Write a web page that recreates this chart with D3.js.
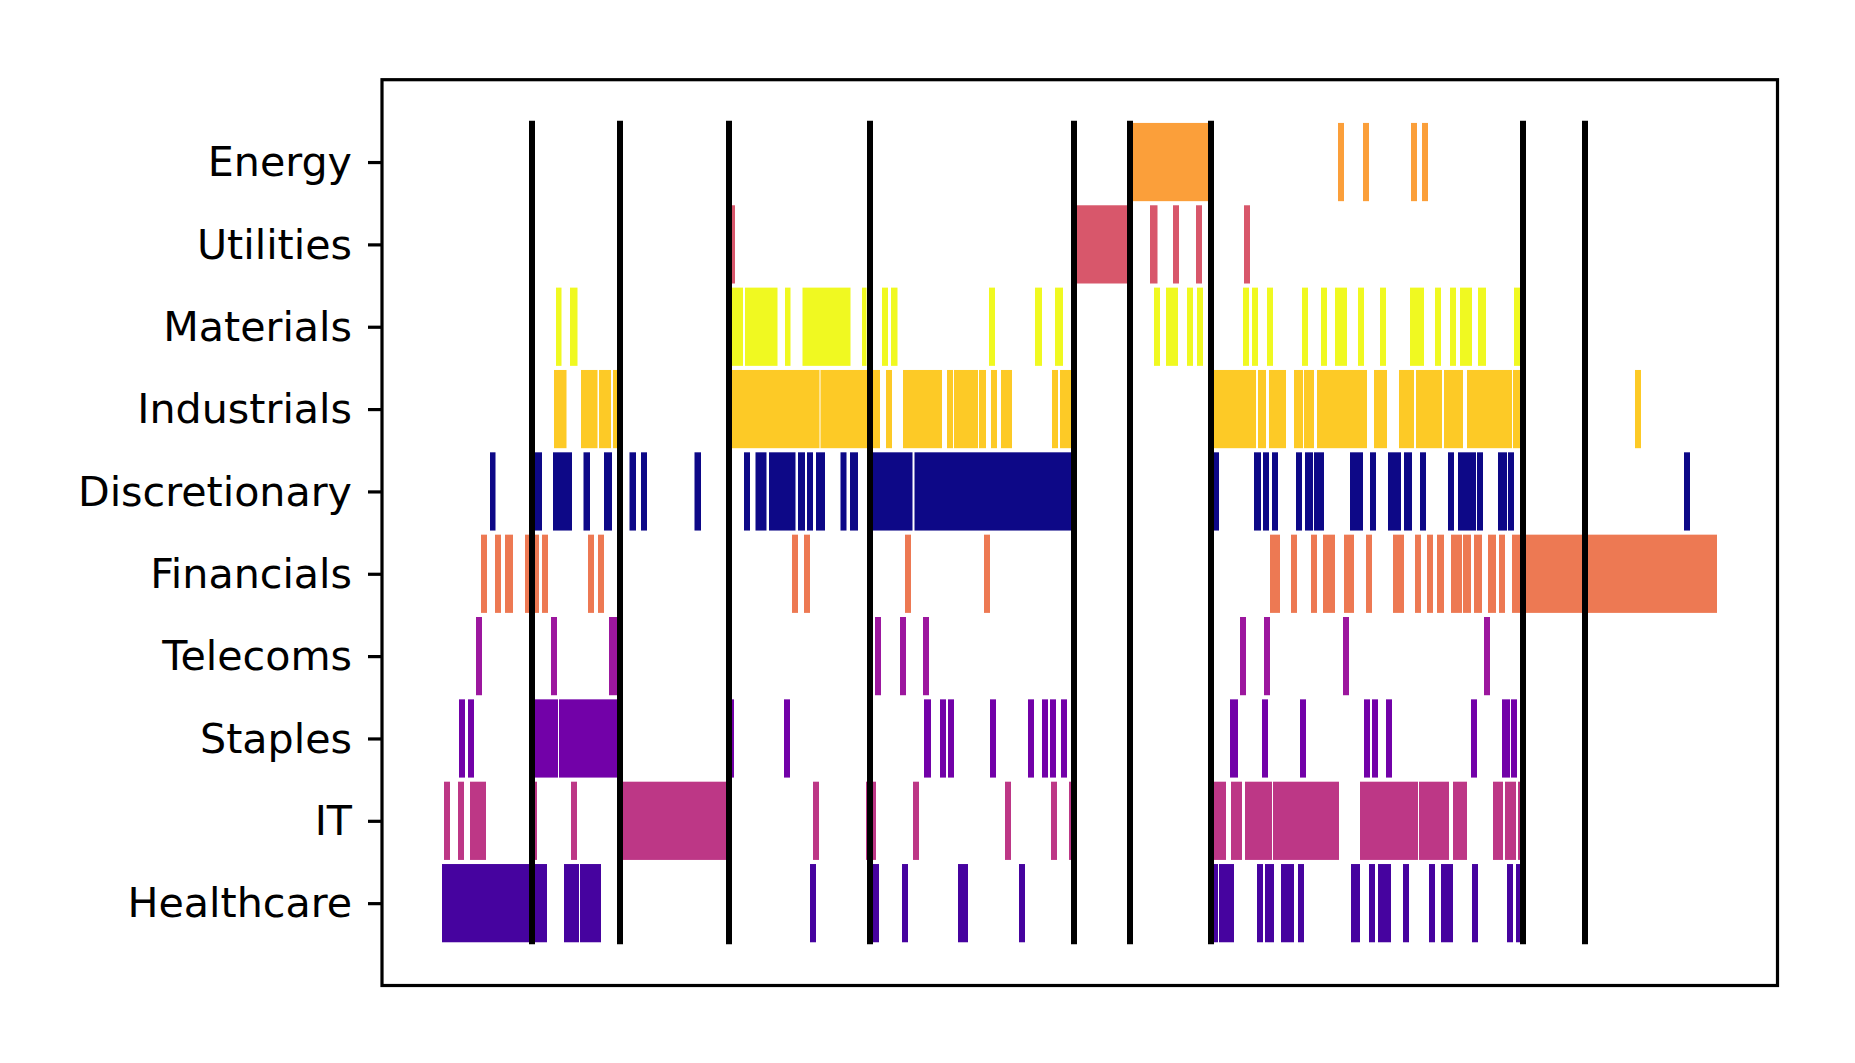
<!DOCTYPE html>
<html>
<head>
<meta charset="utf-8">
<script src="https://cdn.jsdelivr.net/npm/d3@7"></script>
<style>
  body { margin: 0; background: #fff; }
  text { font-family: "DejaVu Sans", sans-serif; }
</style>
</head>
<body>
<div id="chart"></div>
<script>
// sectors from top row to bottom row
const sectors = ['Energy', 'Utilities', 'Materials', 'Industrials', 'Discretionary',
  'Financials', 'Telecoms', 'Staples', 'IT', 'Healthcare']

// position of each sector in the plasma colour map (0..9)
const colorRank = {
  'Discretionary': 0, 'Healthcare': 1, 'Staples': 2, 'Telecoms': 3, 'IT': 4,
  'Utilities': 5, 'Financials': 6, 'Energy': 7, 'Industrials': 8, 'Materials': 9
}

// periods where each sector led, [start, end] in period units
const energyRuns = [[137.6, 153.4], [179.2, 180.4], [184.2, 185.4], [193.8, 195.0], [196.0, 197.2]]

const utilitiesRuns = [[57.6, 58.6], [126.4, 137.4], [141.6, 143.1], [146.2, 147.4], [150.8, 152.0],
  [160.4, 161.6]]

const materialsRuns = [[22.8, 23.9], [25.6, 27.1], [57.6, 60.2], [60.6, 67.1], [68.6, 69.7],
  [72.1, 81.7], [84.0, 84.9], [88.0, 89.2], [89.8, 91.1], [109.4, 110.6], [118.6, 120.0],
  [122.6, 124.2], [142.4, 143.6], [144.8, 147.2], [149.0, 150.2], [151.0, 152.2], [160.2, 161.4],
  [162.0, 163.2], [165.0, 166.2], [172.0, 173.2], [175.8, 177.0], [178.6, 181.0], [183.2, 184.4],
  [187.6, 188.8], [193.6, 196.4], [198.6, 199.8], [201.6, 202.8], [203.6, 206.0], [207.2, 208.8],
  [214.4, 215.6]]

const industrialsRuns = [[22.4, 24.9], [27.8, 31.1], [31.4, 33.8], [34.2, 35.4], [57.6, 75.5],
  [75.7, 85.2], [85.4, 87.6], [88.8, 90.0], [92.2, 100.0], [101.0, 102.2], [102.4, 107.2],
  [107.4, 108.8], [109.8, 111.0], [111.8, 114.0], [122.0, 123.2], [123.6, 126.0], [154.0, 162.8],
  [163.2, 164.8], [165.4, 168.8], [170.4, 172.2], [172.4, 174.4], [175.0, 185.0], [186.4, 189.0],
  [191.4, 194.4], [194.8, 200.0], [200.4, 204.2], [205.0, 214.0], [214.2, 215.8], [238.6, 239.8]]

const discretionaryRuns = [[9.6, 10.7], [18.2, 20.0], [22.2, 26.0], [28.3, 29.6], [32.4, 34.0],
  [37.5, 38.8], [39.8, 41.0], [50.5, 51.8], [60.4, 61.6], [62.7, 64.9], [65.4, 70.7], [71.2, 72.6],
  [73.0, 74.2], [74.8, 76.6], [79.7, 80.9], [81.6, 83.2], [85.4, 94.1], [94.5, 126.0],
  [154.0, 155.4], [162.4, 163.8], [164.2, 165.4], [166.0, 167.2], [170.8, 172.0], [172.6, 174.2],
  [174.4, 176.4], [181.6, 184.2], [185.6, 186.8], [189.2, 191.8], [192.4, 194.0], [195.6, 196.8],
  [201.2, 202.4], [203.2, 206.8], [207.0, 208.2], [211.2, 213.0], [213.2, 214.4], [248.4, 249.6]]

const financialsRuns = [[7.8, 9.0], [10.6, 11.8], [12.6, 14.2], [16.6, 17.8], [18.2, 19.4],
  [20.0, 21.2], [29.2, 30.4], [31.2, 32.4], [70.0, 71.2], [72.4, 73.6], [92.6, 93.8], [108.4, 109.6],
  [165.6, 167.6], [169.8, 171.0], [173.8, 175.0], [176.2, 178.6], [180.4, 182.4], [184.8, 186.0],
  [190.2, 192.4], [194.6, 195.8], [197.0, 198.2], [199.0, 200.4], [201.8, 204.0], [204.2, 205.8],
  [206.4, 208.0], [209.2, 210.8], [211.4, 212.6], [214.0, 255.0]]

const telecomsRuns = [[6.8, 8.0], [21.8, 23.0], [33.4, 35.4], [86.6, 87.8], [91.6, 92.8],
  [96.2, 97.4], [159.6, 160.8], [164.4, 165.6], [180.2, 181.4], [208.4, 209.6]]

const staplesRuns = [[3.4, 4.6], [5.2, 6.4], [18.0, 23.2], [23.4, 35.8], [57.6, 58.4], [68.4, 69.6],
  [96.4, 97.8], [99.6, 100.8], [101.2, 102.4], [109.6, 110.8], [117.2, 118.4], [120.0, 121.2],
  [121.6, 122.8], [123.8, 125.0], [157.6, 159.2], [164.0, 165.2], [171.6, 172.8], [184.4, 185.6],
  [186.0, 187.2], [188.8, 190.0], [205.8, 207.0], [212.0, 213.6], [213.8, 215.0]]

const itRuns = [[0.4, 1.6], [3.2, 4.4], [5.6, 8.8], [18.2, 19.0], [25.8, 27.0], [35.6, 57.2],
  [74.2, 75.4], [84.8, 86.8], [94.2, 95.4], [112.6, 113.8], [121.8, 123.0], [125.4, 126.0],
  [154.0, 156.8], [157.8, 160.0], [160.6, 166.0], [166.2, 179.4], [183.6, 195.2], [195.4, 201.4],
  [202.2, 205.0], [210.2, 212.2], [212.6, 214.8], [215.2, 215.8]]

const healthcareRuns = [[0.0, 17.8], [18.0, 21.0], [24.4, 27.4], [27.6, 31.8], [73.6, 74.8],
  [85.4, 87.4], [92.0, 93.2], [103.2, 105.2], [115.4, 116.6], [154.0, 155.2], [155.4, 158.4],
  [163.0, 164.2], [164.6, 166.4], [167.8, 170.4], [171.2, 172.4], [181.8, 183.6], [185.4, 186.6],
  [187.2, 189.8], [192.2, 193.4], [197.4, 198.6], [199.8, 202.2], [206.0, 207.2], [213.0, 214.2],
  [214.8, 215.8]]

// black event markers
const eventMarks = [18.0, 35.6, 57.4, 85.6, 126.4, 137.6, 153.8, 216.2, 228.6]

const runsBySector = {
  'Energy': energyRuns, 'Utilities': utilitiesRuns, 'Materials': materialsRuns,
  'Industrials': industrialsRuns, 'Discretionary': discretionaryRuns, 'Financials': financialsRuns,
  'Telecoms': telecomsRuns, 'Staples': staplesRuns, 'IT': itRuns, 'Healthcare': healthcareRuns
}

const width = 1855
const height = 1063
const plotLeft = 382
const plotRight = 1777.5
const plotTop = 79.7
const plotBottom = 985.5

const svg = d3.select('#chart').append('svg')
  .attr('width', width)
  .attr('height', height)

svg.append('rect').attr('width', width).attr('height', height).attr('fill', '#fff')

const xScale = d3.scaleLinear().domain([-12, 267.1]).range([plotLeft, plotRight])
// row index: Healthcare = 0 ... Energy = 9
const yScale = d3.scaleLinear().domain([-1, 10]).range([plotBottom, plotTop])

function rowOf(sector) {
  return sectors.length - 1 - sectors.indexOf(sector)
}

const bars = []
sectors.forEach(function(s) {
  runsBySector[s].forEach(function(r) {
    bars.push({ sector: s, start: r[0], end: r[1] })
  })
})

const barHeight = 0.95

svg.append('g').selectAll('rect').data(bars)
  .enter()
  .append('rect')
  .attr('x', function(d) { return xScale(d.start) })
  .attr('width', function(d) { return xScale(d.end) - xScale(d.start) })
  .attr('y', function(d) { return yScale(rowOf(d.sector) + barHeight / 2) })
  .attr('height', function(d) { return yScale(0) - yScale(barHeight) })
  .attr('fill', function(d) { return d3.interpolatePlasma(colorRank[d.sector] / 9) })

svg.append('g').selectAll('line').data(eventMarks)
  .enter()
  .append('line')
  .attr('x1', function(d) { return xScale(d) })
  .attr('x2', function(d) { return xScale(d) })
  .attr('y1', yScale(9.5))
  .attr('y2', yScale(-0.5))
  .attr('stroke', '#000')
  .attr('stroke-width', 6)

// y axis with sector names
const yAxis = d3.axisLeft(yScale)
  .tickValues(d3.range(sectors.length))
  .tickFormat(function(i) { return sectors[sectors.length - 1 - i] })
  .tickSize(14)
  .tickPadding(14)

const yAxisG = svg.append('g')
  .attr('transform', 'translate(' + plotLeft + ',0)')
  .call(yAxis)
yAxisG.select('.domain').remove()
yAxisG.selectAll('.tick line').attr('stroke', '#000').attr('stroke-width', 3.2)
yAxisG.selectAll('.tick text')
  .attr('font-size', '41.2px')
  .attr('font-family', '"DejaVu Sans", sans-serif')
  .attr('fill', '#000')
  .attr('dy', '0.33em')
  .attr('x', -30)

// frame
svg.append('rect')
  .attr('x', plotLeft)
  .attr('y', plotTop)
  .attr('width', plotRight - plotLeft)
  .attr('height', plotBottom - plotTop)
  .attr('fill', 'none')
  .attr('stroke', '#000')
  .attr('stroke-width', 3.2)
</script>
</body>
</html>
